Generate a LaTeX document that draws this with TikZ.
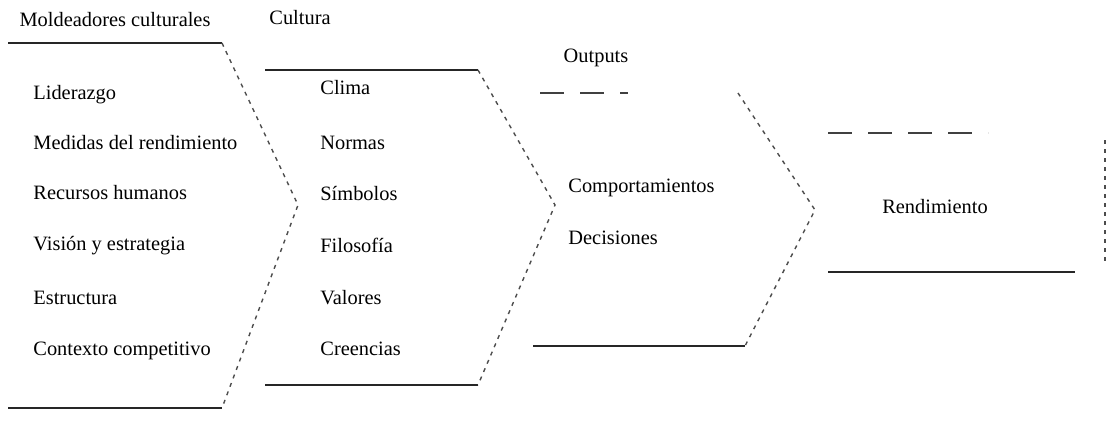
\documentclass[tikz,border=0pt]{standalone}
\usepackage{fontspec}
\setmainfont{Liberation Serif}
\newfontfamily\diafont{Liberation Serif}
\usetikzlibrary{positioning}

\begin{document}
\begin{tikzpicture}[
  x=0.5pt, y=-0.5pt,
  item/.style={font=\diafont\fontsize{10.2}{12}\selectfont, anchor=mid west, inner sep=0pt},
  title/.style={font=\diafont\fontsize{10.2}{12}\selectfont, inner sep=0pt},
  rim/.style={line width=0.8pt, black!85},
  slant/.style={line width=0.7pt, black!70, dash pattern=on 2pt off 2.5pt},
  broken/.style={line width=0.7pt, black!75, dash pattern=on 12pt off 8pt},
]
\useasboundingbox (0,0) rectangle (1108,420);

% --- Moldeadores culturales ---
\node[title] (hMold) at (115,20) {Moldeadores culturales};
\coordinate (moldTL) at (8,43);
\coordinate (moldTR) at (222,43);
\coordinate (moldTip) at (298,205);
\coordinate (moldBR) at (222,408);
\coordinate (moldBL) at (8,408);
\draw[rim] (moldTL) -- (moldTR);
\draw[rim] (moldBL) -- (moldBR);
\draw[slant] (moldTR) -- (moldTip) -- (moldBR);
\foreach \t/\y [count=\i] in {Liderazgo/95, Medidas del rendimiento/145,
    Recursos humanos/195, Visión y estrategia/246, Estructura/300,
    Contexto competitivo/351}
  \node[item] (mold\i) at (33,\y) {\t};

% --- Cultura ---
\node[title] (hCult) at (300,18) {Cultura};
\coordinate (cultTL) at (265,70);
\coordinate (cultTR) at (478,70);
\coordinate (cultTip) at (555,205);
\coordinate (cultBR) at (478,385);
\coordinate (cultBL) at (265,385);
\draw[rim] (cultTL) -- (cultTR);
\draw[rim] (cultBL) -- (cultBR);
\draw[slant] (cultTR) -- (cultTip) -- (cultBR);
\foreach \t/\y [count=\i] in {Clima/90, Normas/145, Símbolos/196,
    Filosofía/248, Valores/300, Creencias/351}
  \node[item] (cult\i) at (320,\y) {\t};

% --- Outputs ---
\node[title] (hOut) at (596,58) {Outputs};
\coordinate (outTL) at (540,93);
\coordinate (outTR) at (738,93);
\coordinate (outTip) at (815,210);
\coordinate (outBR) at (745,346);
\coordinate (outBL) at (533,346);
\draw[broken] (outTL) -- (628,93);
\draw[rim] (outBL) -- (outBR);
\draw[slant] (outTR) -- (outTip) -- (outBR);
\node[item] (out1) at (568,188) {Comportamientos};
\node[item] (out2) at (568,240) {Decisiones};

% --- Rendimiento ---
\coordinate (rendTL) at (828,133);
\coordinate (rendTR) at (988,133);
\coordinate (rendBL) at (828,272);
\coordinate (rendBR) at (1075,272);
\coordinate (rendRT) at (1105,140);
\coordinate (rendRB) at (1105,265);
\draw[broken] (rendTL) -- (rendTR);
\draw[rim] (rendBL) -- (rendBR);
\draw[slant] (rendRT) -- (rendRB);
\node[title] (rend) at (935,207) {Rendimiento};

\end{tikzpicture}
\end{document}
